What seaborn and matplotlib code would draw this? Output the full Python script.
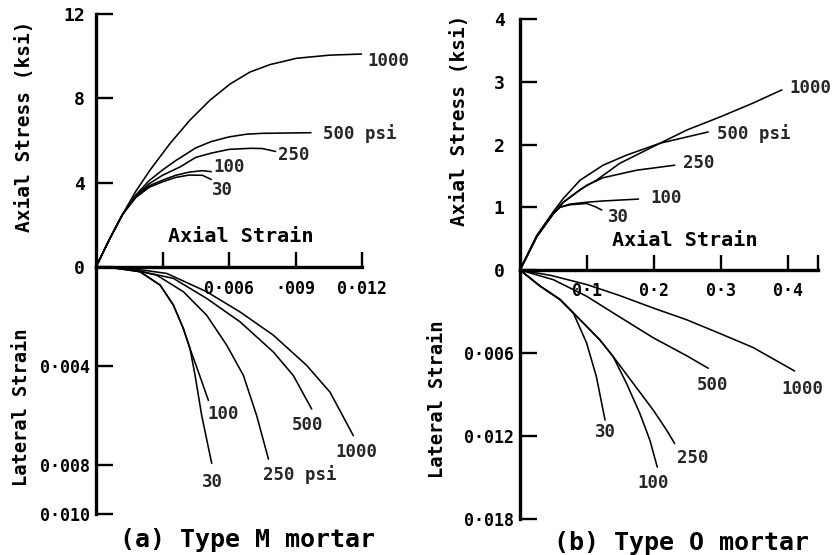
import matplotlib
matplotlib.use("Agg")
import matplotlib.pyplot as plt
import pandas as pd
import seaborn as sns

sns.set_theme(style="white")
plt.rcParams["font.family"] = ["DejaVu Sans Mono", "DejaVu Sans"]

pressures = ["30", "100", "250", "500", "1000"]

# ---------------- Type M mortar: axial stress (ksi) vs axial strain
M_ax_30 = [0, .0006, .0012, .0018, .0024, .003, .0036, .0042, .0048, .0052]
M_st_30 = [0, 1.3, 2.5, 3.3, 3.78, 4.04, 4.25, 4.36, 4.35, 4.15]
M_ax_100 = [0, .0006, .0012, .0018, .0024, .003, .0036, .0042, .0048, .0052]
M_st_100 = [0, 1.3, 2.5, 3.33, 3.85, 4.12, 4.35, 4.5, 4.57, 4.52]
M_ax_250 = [0, .0006, .0012, .0018, .0024, .003, .0038, .0045, .0052, .006, .007, .0075, .0081]
M_st_250 = [0, 1.3, 2.5, 3.37, 3.95, 4.35, 4.75, 5.2, 5.4, 5.58, 5.63, 5.62, 5.48]
M_ax_500 = [0, .0006, .0012, .0018, .0024, .003, .0036, .0045, .0052, .006, .0068, .0075, .009, .0097]
M_st_500 = [0, 1.3, 2.5, 3.42, 4.1, 4.6, 5.05, 5.65, 5.95, 6.17, 6.3, 6.34, 6.36, 6.37]
M_ax_1000 = [0, .0006, .0012, .0018, .00244, .00334, .00424, .00514, .00605, .00695, .00785, .00905, .01056, .01198]
M_st_1000 = [0, 1.3, 2.5, 3.6, 4.6, 5.86, 6.97, 7.91, 8.68, 9.25, 9.6, 9.9, 10.05, 10.1]

# ---------------- Type M mortar: lateral strain vs axial strain
M_lx_30 = [0, .0009, .00198, .00289, .00349, .00394, .00424, .00447, .00477, .00522]
M_lat_30 = [0, .00005, .00019, .00073, .00154, .00249, .0033, .00439, .00602, .00795]
M_lx_100 = [0, .0009, .00198, .00289, .00349, .00394, .00424, .00462, .00507]
M_lat_100 = [0, .00005, .00019, .00073, .00154, .00249, .0033, .00425, .0054]
M_lx_250 = [0, .0015, .00274, .00394, .00499, .0059, .00665, .00725, .00778]
M_lat_250 = [0, .00008, .00033, .001, .00195, .00317, .00439, .00602, .00778]
M_lx_500 = [0, .0015, .00349, .00499, .0065, .008, .0089, .00973]
M_lat_500 = [0, .00008, .00046, .00127, .00222, .00344, .00439, .00575]
M_lx_1000 = [0, .0015, .00319, .00499, .0065, .008, .0095, .01056, .01161]
M_lat_1000 = [0, .00005, .00026, .001, .00182, .00276, .00398, .00507, .00683]

# ---------------- Type O mortar: axial stress (ksi) vs axial strain
O_ax_30 = [0, .0249, .0498, .0597, .0746, .0995, .112, .122]
O_st_30 = [0, .53, .9, 1.0, 1.04, 1.06, 1.01, .956]
O_ax_100 = [0, .0249, .0498, .0597, .0746, .0995, .124, .15, .177]
O_st_100 = [0, .53, .9, 1.0, 1.05, 1.08, 1.10, 1.115, 1.13]
O_ax_250 = [0, .0249, .0498, .0647, .0995, .124, .174, .231]
O_st_250 = [0, .53, .9, 1.08, 1.35, 1.47, 1.59, 1.67]
O_ax_500 = [0, .0249, .0498, .0647, .0896, .124, .159, .209, .249, .281]
O_st_500 = [0, .55, .93, 1.14, 1.43, 1.67, 1.83, 2.02, 2.12, 2.2]
O_ax_1000 = [0, .0249, .0498, .0647, .0896, .114, .149, .179, .209, .249, .299, .348, .391]
O_st_1000 = [0, .53, .9, 1.08, 1.28, 1.43, 1.70, 1.86, 2.02, 2.23, 2.44, 2.66, 2.87]

# ---------------- Type O mortar: lateral strain vs axial strain
O_lx_30 = [0, .0299, .0597, .0796, .0995, .114, .127]
O_lat_30 = [0, .00116, .00213, .0031, .00528, .0077, .01085]
O_lx_100 = [0, .0299, .0597, .0896, .119, .139, .159, .179, .194, .205]
O_lat_100 = [0, .00116, .00213, .00359, .00504, .00625, .00819, .01037, .01231, .01425]
O_lx_250 = [0, .0299, .0597, .0896, .119, .139, .169, .199, .219, .231]
O_lat_250 = [0, .00116, .00213, .00359, .00504, .00625, .00819, .01013, .01158, .01255]
O_lx_500 = [0, .0498, .0995, .149, .199, .249, .281]
O_lat_500 = [0, .0007, .0019, .0034, .0049, .0062, .0071]
O_lx_1000 = [0, .047, .0995, .149, .199, .249, .299, .348, .41]
O_lat_1000 = [0, .0004, .00105, .00185, .00275, .0036, .0046, .0056, .0073]

# tick labels
M_xticks = [0.003, 0.006, 0.009, 0.012]
M_xticklabels = ["", "0·006", "·009", "0·012"]
M_yticks = [0, 4, 8, 12]
M_yticklabels = ["0", "4", "8", "12"]
M_lticks = [0.004, 0.008, 0.010]
M_lticklabels = ["0·004", "0·008", "0·010"]
O_xticks = [0.1, 0.2, 0.3, 0.4, 0.445]
O_xticklabels = ["0·1", "0·2", "0·3", "0·4", ""]
O_yticks = [0, 1, 2, 3, 4]
O_yticklabels = ["0", "1", "2", "3", "4"]
O_lticks = [0.006, 0.012, 0.018]
O_lticklabels = ["0·006", "0·012", "0·018"]


def long_df(xs, ys):
    rows = []
    for p, x, y in zip(pressures, xs, ys):
        for a, b in zip(x, y):
            rows.append({"axial": a, "v": b, "p": p})
    return pd.DataFrame(rows)


dfMs = long_df([M_ax_30, M_ax_100, M_ax_250, M_ax_500, M_ax_1000],
               [M_st_30, M_st_100, M_st_250, M_st_500, M_st_1000])
dfMl = long_df([M_lx_30, M_lx_100, M_lx_250, M_lx_500, M_lx_1000],
               [M_lat_30, M_lat_100, M_lat_250, M_lat_500, M_lat_1000])
dfOs = long_df([O_ax_30, O_ax_100, O_ax_250, O_ax_500, O_ax_1000],
               [O_st_30, O_st_100, O_st_250, O_st_500, O_st_1000])
dfOl = long_df([O_lx_30, O_lx_100, O_lx_250, O_lx_500, O_lx_1000],
               [O_lat_30, O_lat_100, O_lat_250, O_lat_500, O_lat_1000])

W, H = 834, 555
fig = plt.figure(figsize=(W / 100, H / 100), dpi=100)
fig.patch.set_facecolor("white")


def rect(l, r, t, b):
    return [l / W, 1 - b / H, (r - l) / W, (b - t) / H]


axA = fig.add_axes(rect(96, 362, 14, 267))
axAl = fig.add_axes(rect(96, 362, 267, 514))
axB = fig.add_axes(rect(520, 818, 19, 270))
axBl = fig.add_axes(rect(520, 818, 270, 519))

SPW = 2.4
TW = 1.7
FS_T = 12
WT = "bold"


def draw(ax, df):
    sns.lineplot(data=df, x="axial", y="v", units="p", estimator=None, sort=False,
                 color="black", lw=1.15, ax=ax, legend=False)
    for ln in ax.lines:
        ln.set_clip_on(False)
        ln.set_solid_capstyle("round")
        ln.set_solid_joinstyle("round")
    ax.set_xlabel("")
    ax.set_ylabel("")
    ax.set_facecolor("none")


def style_top(ax, xmax, ymax, xt, xtl, yt, ytl, ypad):
    ax.set_xlim(0, xmax)
    ax.set_ylim(0, ymax)
    for s in ["top", "right"]:
        ax.spines[s].set_visible(False)
    for s in ["left", "bottom"]:
        ax.spines[s].set_linewidth(SPW)
        ax.spines[s].set_color("black")
    ax.set_xticks(xt)
    ax.set_xticklabels(xtl, fontweight=WT)
    ax.set_yticks(yt)
    ax.set_yticklabels(ytl, fontweight=WT)
    ax.tick_params(axis="x", direction="in", length=11, width=TW, pad=9,
                   labelsize=FS_T, colors="black", bottom=True)
    ax.tick_params(axis="y", direction="in", length=12, width=TW, pad=ypad,
                   labelsize=FS_T + 1, colors="black", left=True)


def style_bot(ax, xmax, lmax, yt, ytl):
    ax.set_xlim(0, xmax)
    ax.set_ylim(lmax, 0)
    for s in ["top", "right", "bottom"]:
        ax.spines[s].set_visible(False)
    ax.spines["left"].set_linewidth(SPW)
    ax.spines["left"].set_color("black")
    ax.set_xticks([])
    ax.set_yticks(yt)
    ax.set_yticklabels(ytl, fontweight=WT)
    ax.tick_params(axis="y", direction="in", length=12, width=TW, pad=4,
                   labelsize=FS_T, colors="black", left=True)


draw(axA, dfMs)
draw(axAl, dfMl)
draw(axB, dfOs)
draw(axBl, dfOl)

style_top(axA, 0.012, 12, M_xticks, M_xticklabels, M_yticks, M_yticklabels, 8)
style_bot(axAl, 0.012, 0.010, M_lticks, M_lticklabels)
style_top(axB, 0.445, 4, O_xticks, O_xticklabels, O_yticks, O_yticklabels, 11)
style_bot(axBl, 0.445, 0.018, O_lticks, O_lticklabels)

FS_L = 12.5
kw = dict(fontsize=FS_L, ha="left", va="center", fontweight=WT)
# curve labels (Type M)
axA.text(0.01225, 9.75, "1000", **kw)
axA.text(0.01024, 6.35, "500 psi", **kw)
axA.text(0.00822, 5.31, "250", **kw)
axA.text(0.00528, 4.74, "100", **kw)
axA.text(0.00523, 3.65, "30", **kw)
axAl.text(0.00502, 0.00594, "100", **kw)
axAl.text(0.00477, 0.00869, "30", **kw)
axAl.text(0.00755, 0.00841, "250 psi", **kw)
axAl.text(0.00883, 0.00638, "500", **kw)
axAl.text(0.01078, 0.00751, "1000", **kw)
# curve labels (Type O)
axB.text(0.403, 2.90, "1000", **kw)
axB.text(0.294, 2.18, "500 psi", **kw)
axB.text(0.243, 1.70, "250", **kw)
axB.text(0.194, 1.14, "100", **kw)
axB.text(0.131, 0.85, "30", **kw)
axBl.text(0.264, 0.00834, "500", **kw)
axBl.text(0.391, 0.00863, "1000", **kw)
axBl.text(0.112, 0.01173, "30", **kw)
axBl.text(0.234, 0.01362, "250", **kw)
axBl.text(0.176, 0.01537, "100", **kw)


def ft(px, py, s, **kw):
    fig.text(px / W, 1 - py / H, s, ha="center", va="center", color="black", **kw)


ft(25, 126, "Axial Stress (ksi)", rotation=90, fontsize=14, fontweight=WT)
ft(22, 407, "Lateral Strain", rotation=90, fontsize=13.5, fontweight=WT)
ft(460, 120, "Axial Stress (ksi)", rotation=90, fontsize=14, fontweight=WT)
ft(438, 399, "Lateral Strain", rotation=90, fontsize=13.5, fontweight=WT)
ft(241, 236, "Axial Strain", fontsize=14.5, fontweight=WT)
ft(685, 240, "Axial Strain", fontsize=14.5, fontweight=WT)
ft(248, 540, "(a) Type M mortar", fontsize=18, fontweight="bold")
ft(682, 543, "(b) Type O mortar", fontsize=18, fontweight="bold")

fig.savefig("out.png", dpi=100, facecolor="white")
